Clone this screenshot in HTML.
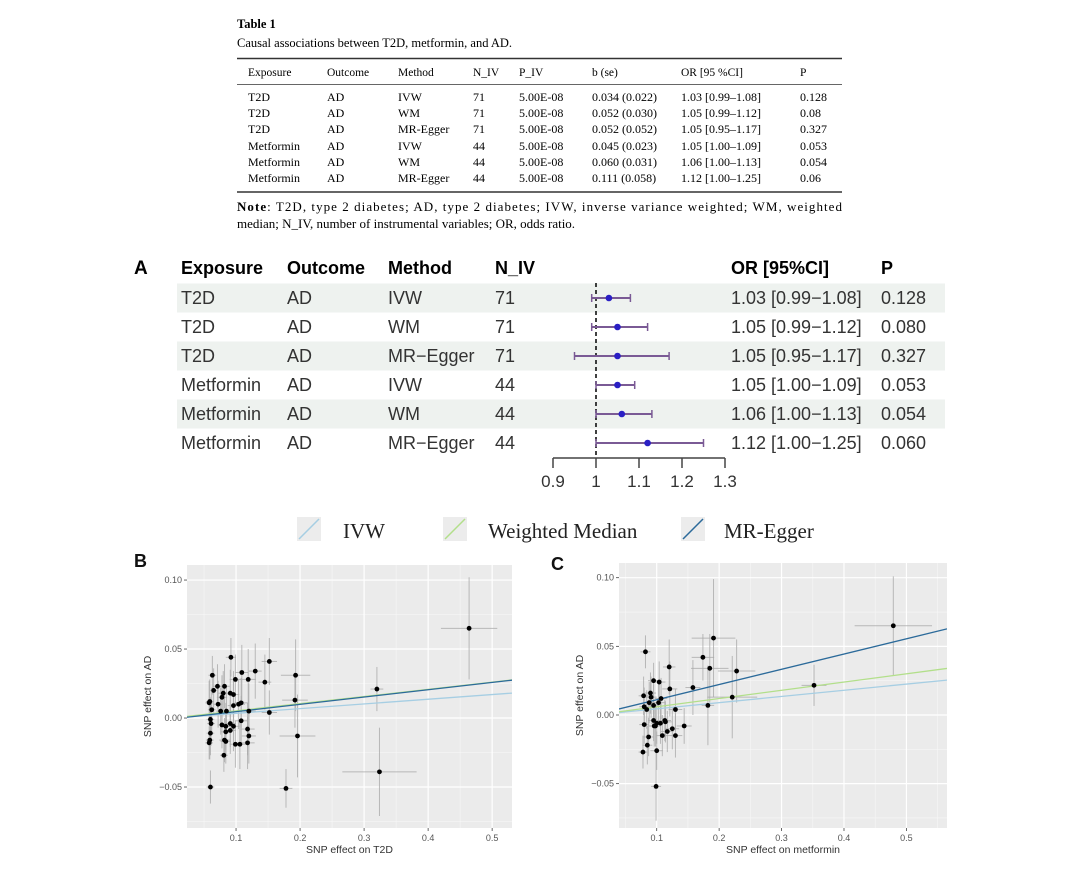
<!DOCTYPE html>
<html><head><meta charset="utf-8">
<style>
html,body{margin:0;padding:0;background:#fff;}
svg{display:block;}
.serif{font-family:"Liberation Serif",serif;}
.sans{font-family:"Liberation Sans",sans-serif;}
</style></head>
<body>
<svg id="fig" width="1080" height="870" viewBox="0 0 1080 870" xmlns="http://www.w3.org/2000/svg">
<g id="table" class="serif"></g>
<g id="forest" class="sans"></g>
<g id="legend"></g>
<g id="panelB" class="sans"></g>
<g id="panelC" class="sans"></g>
</svg>
<script>
// ---------- data ----------
const exposures = ["T2D","T2D","T2D","Metformin","Metformin","Metformin"];
const outcomes = ["AD","AD","AD","AD","AD","AD"];
const methods = ["IVW","WM","MR-Egger","IVW","WM","MR-Egger"];
const nIV = [71,71,71,44,44,44];
const pIV = ["5.00E-08","5.00E-08","5.00E-08","5.00E-08","5.00E-08","5.00E-08"];
const bse = ["0.034 (0.022)","0.052 (0.030)","0.052 (0.052)","0.045 (0.023)","0.060 (0.031)","0.111 (0.058)"];
const orVals = [1.03,1.05,1.05,1.05,1.06,1.12];
const orLow = [0.99,0.99,0.95,1.00,1.00,1.00];
const orHigh = [1.08,1.12,1.17,1.09,1.13,1.25];
const pTable = ["0.128","0.08","0.327","0.053","0.054","0.06"];
const pForest = ["0.128","0.080","0.327","0.053","0.054","0.060"];
const forestTicks = [0.9,1,1.1,1.2,1.3];

// Panel B (T2D) SNP effects
const bX = [0.464,0.320,0.324,0.178,0.193,0.192,0.196,0.152,0.152,0.145,0.130,0.119,0.109,0.092,0.060,0.081,
 0.063,0.071,0.065,0.082,0.078,0.080,0.091,0.096,0.099,0.059,0.058,0.062,0.072,0.076,0.085,0.096,0.104,0.108,0.120,
 0.060,0.061,0.078,0.084,0.091,0.096,0.108,0.084,0.091,0.118,0.120,0.060,0.058,0.059,0.082,0.084,0.099,0.106,0.118];
const bY = [0.065,0.021,-0.039,-0.051,0.031,0.013,-0.013,0.041,0.004,0.026,0.034,0.028,0.033,0.044,-0.050,-0.027,
 0.031,0.023,0.020,0.023,0.015,0.018,0.018,0.017,0.028,0.012,0.011,0.006,0.010,0.005,0.005,0.009,0.010,0.011,0.005,
 -0.001,-0.004,-0.005,-0.006,-0.004,-0.006,-0.002,-0.010,-0.009,-0.008,-0.013,-0.011,-0.018,-0.016,-0.016,-0.017,-0.019,-0.019,-0.018];
const bXse = [0.044,0.010,0.058,0.010,0.023,0.020,0.028,0.012,0.012,0.010,0.010,0.012,0.010,0.008,0.006,0.006,
 0.006,0.007,0.006,0.008,0.008,0.008,0.009,0.009,0.009,0.006,0.006,0.006,0.007,0.007,0.008,0.009,0.010,0.010,0.011,
 0.006,0.006,0.007,0.008,0.009,0.009,0.010,0.008,0.009,0.011,0.011,0.006,0.006,0.006,0.008,0.008,0.009,0.010,0.011];
const bYse = [0.037,0.016,0.032,0.014,0.026,0.020,0.030,0.017,0.016,0.020,0.020,0.022,0.020,0.014,0.012,0.012,
 0.014,0.016,0.016,0.016,0.016,0.016,0.017,0.017,0.018,0.016,0.016,0.016,0.017,0.017,0.017,0.018,0.018,0.018,0.020,
 0.016,0.016,0.017,0.017,0.017,0.018,0.018,0.017,0.017,0.019,0.020,0.016,0.012,0.014,0.016,0.016,0.017,0.018,0.019];
const bSlopes = [0.034,0.052,0.053];
const bIntercepts = [0,0,-0.0007];

// Panel C (metformin)
const cX = [0.479,0.352,0.191,0.174,0.185,0.228,0.221,0.182,0.158,0.120,0.121,0.082,0.099,0.078,0.100,0.085,0.087,0.109,
 0.130,0.117,0.125,0.144,0.113,0.114,0.130,0.106,0.100,0.096,0.098,0.095,0.080,0.079,0.095,0.104,0.090,0.091,0.088,0.103,0.107,0.084,0.095,0.080];
const cY = [0.065,0.0216,0.056,0.042,0.034,0.032,0.013,0.007,0.020,0.035,0.019,0.046,-0.052,-0.027,-0.026,-0.022,-0.016,-0.015,
 -0.015,-0.012,-0.010,-0.008,-0.004,-0.005,0.004,-0.006,-0.006,-0.008,-0.008,-0.004,-0.007,0.014,0.025,0.024,0.016,0.013,0.009,0.009,0.012,0.004,0.007,0.006];
const cXse = [0.062,0.020,0.035,0.018,0.030,0.030,0.040,0.010,0.012,0.010,0.012,0.008,0.008,0.007,0.010,0.008,0.008,0.010,
 0.011,0.010,0.011,0.012,0.010,0.010,0.011,0.009,0.009,0.009,0.009,0.009,0.008,0.008,0.009,0.010,0.009,0.009,0.009,0.010,0.010,0.008,0.009,0.008];
const cYse = [0.036,0.015,0.043,0.017,0.025,0.023,0.030,0.029,0.020,0.020,0.020,0.012,0.025,0.012,0.014,0.014,0.014,0.015,
 0.016,0.015,0.015,0.013,0.015,0.015,0.015,0.015,0.015,0.015,0.015,0.015,0.014,0.014,0.013,0.015,0.015,0.015,0.015,0.015,0.015,0.014,0.015,0.014];
const cSlopes = [0.045,0.060,0.111];
const cIntercepts = [0,0,0];
const lineColors = ["#a6cee3","#b2df8a","#2b6a9a"];

// ---------- helpers ----------
const NS="http://www.w3.org/2000/svg";
function mk(parent,tag,attrs,text){
  const e=document.createElementNS(NS,tag);
  for(const k in attrs)e.setAttribute(k,attrs[k]);
  if(text!==undefined)e.textContent=text;
  parent.appendChild(e);return e;
}

// ---------- Table ----------
const T=document.getElementById('table');
let el;
el=mk(T,'text',{x:237,y:28,'font-size':12.5,'font-weight':'bold'},'Table 1');


el=mk(T,'text',{x:237,y:47,'font-size':12.5},'Causal associations between T2D, metformin, and AD.');


mk(T,'line',{x1:237,x2:842,y1:58.5,y2:58.5,stroke:'#333','stroke-width':1.5});
mk(T,'line',{x1:237,x2:842,y1:84.5,y2:84.5,stroke:'#333','stroke-width':0.8});
mk(T,'line',{x1:237,x2:842,y1:192,y2:192,stroke:'#333','stroke-width':1.5});
const colX=[248,327,398,473,519,592,681,800];
const heads=["Exposure","Outcome","Method","N_IV","P_IV","b (se)","OR [95 %CI]","P"];
heads.forEach((h,i)=>{
  const t=mk(T,'text',{x:colX[i],y:76,'font-size':11.5},h);
  
  
});
const rowY=[101,117,133,150,166,182];
for(let r=0;r<6;r++){
  const ci=orVals[r].toFixed(2)+" ["+orLow[r].toFixed(2)+"\u2013"+orHigh[r].toFixed(2)+"]";
  const vals=[exposures[r],outcomes[r],methods[r],nIV[r],pIV[r],bse[r],ci,pTable[r]];
  vals.forEach((v,i)=>{
    const t=mk(T,'text',{x:colX[i],y:rowY[r],'font-size':12},String(v));
    
    
  });
}
el=mk(T,'text',{x:237,y:211,'font-size':13,textLength:605,lengthAdjust:'spacing'});
el.innerHTML='<tspan font-weight="bold">Note</tspan>: T2D, type 2 diabetes; AD, type 2 diabetes; IVW, inverse variance weighted; WM, weighted';


el=mk(T,'text',{x:237,y:228,'font-size':13},'median; N_IV, number of instrumental variables; OR, odds ratio.');



// ---------- Forest ----------
const F=document.getElementById('forest');
const fx=v=>596+(v-1)*430;
const fRowY=[298,327,356,385,414,443];
for(let r=0;r<6;r+=2){
  const s=mk(F,'rect',{x:177,y:fRowY[r]-14.5,width:768,height:29,fill:'#eef2ef'});
  
  
}
el=mk(F,'text',{x:134,y:274,'font-size':19,'font-weight':'bold'},'A');


const fCols=[181,287,388,495];
const fHeads=["Exposure","Outcome","Method","N_IV"];
fHeads.forEach((h,i)=>{
  const t=mk(F,'text',{x:fCols[i],y:274,'font-size':18,'font-weight':'bold'},h);
  
  
});
el=mk(F,'text',{x:731,y:274,'font-size':18,'font-weight':'bold'},'OR [95%CI]');


el=mk(F,'text',{x:881,y:274,'font-size':18,'font-weight':'bold'},'P');


mk(F,'line',{x1:fx(1),x2:fx(1),y1:283,y2:458,stroke:'#111','stroke-width':1.6,'stroke-dasharray':'4,3'});
for(let r=0;r<6;r++){
  const y=fRowY[r]+6;
  [exposures[r],outcomes[r],methods[r].replace('-','\u2212'),String(nIV[r])].forEach((v,i)=>{
    const t=mk(F,'text',{x:fCols[i],y:y,'font-size':18,fill:'#333'},v);
    
    
  });
  const ci=orVals[r].toFixed(2)+" ["+orLow[r].toFixed(2)+"\u2212"+orHigh[r].toFixed(2)+"]";
  let t=mk(F,'text',{x:731,y:y,'font-size':18,fill:'#333'},ci);
  
  
  t=mk(F,'text',{x:881,y:y,'font-size':18,fill:'#333'},pForest[r]);
  
  
  const yc=fRowY[r];
  const g=mk(F,'g',{});
  
  
  mk(g,'line',{x1:fx(orLow[r]),x2:fx(orHigh[r]),y1:yc,y2:yc,stroke:'#7a5a95','stroke-width':2});
  mk(g,'line',{x1:fx(orLow[r]),x2:fx(orLow[r]),y1:yc-4,y2:yc+4,stroke:'#7a5a95','stroke-width':1.5});
  mk(g,'line',{x1:fx(orHigh[r]),x2:fx(orHigh[r]),y1:yc-4,y2:yc+4,stroke:'#7a5a95','stroke-width':1.5});
  const p=mk(F,'circle',{cx:fx(orVals[r]),cy:yc,r:3.3,fill:'#2a1fc4'});
  
  
}
mk(F,'line',{x1:fx(0.9),x2:fx(1.3),y1:458,y2:458,stroke:'#444','stroke-width':1.5});
forestTicks.forEach(v=>{
  mk(F,'line',{x1:fx(v),x2:fx(v),y1:458,y2:468,stroke:'#444','stroke-width':1.5});
  const t=mk(F,'text',{x:fx(v),y:487,'font-size':17,'text-anchor':'middle',fill:'#333'},String(v));
  
  
});

// ---------- Legend ----------
const L=document.getElementById('legend');
const legKeys=[[297,343,"IVW"],[443,488,"Weighted Median"],[681,724,"MR-Egger"]];
legKeys.forEach((k,i)=>{
  const g=mk(L,'g',{});
  
  
  mk(g,'rect',{x:k[0],y:517,width:24,height:24,fill:'#ececec'});
  mk(g,'line',{x1:k[0]+2,y1:539,x2:k[0]+22,y2:519,stroke:lineColors[i],'stroke-width':1.5});
  mk(g,'text',{x:k[1],y:538,'font-size':21,'font-family':'"Liberation Serif",serif',fill:'#222'},k[2]);
});

// ---------- Scatter ----------
function scatter(id,opt){
  const G=document.getElementById(id);
  const X=v=>opt.px0+(v-opt.xmin)/(opt.xmax-opt.xmin)*(opt.px1-opt.px0);
  const Y=v=>opt.py1-(v-opt.ymin)/(opt.ymax-opt.ymin)*(opt.py1-opt.py0);
  const bg=mk(G,'rect',{x:opt.px0,y:opt.py0,width:opt.px1-opt.px0,height:opt.py1-opt.py0,fill:'#ebebeb'});
  
  
  const xt=[0.1,0.2,0.3,0.4,0.5], yt=[-0.05,0,0.05,0.1];
  const xm=[0.05,0.15,0.25,0.35,0.45,0.55], ym=[-0.075,-0.025,0.025,0.075];
  xm.forEach(v=>{if(v>opt.xmin&&v<opt.xmax)mk(G,'line',{x1:X(v),x2:X(v),y1:opt.py0,y2:opt.py1,stroke:'#f7f7f7','stroke-width':0.6});});
  ym.forEach(v=>{if(v>opt.ymin&&v<opt.ymax)mk(G,'line',{y1:Y(v),y2:Y(v),x1:opt.px0,x2:opt.px1,stroke:'#f7f7f7','stroke-width':0.6});});
  xt.forEach(v=>{
    mk(G,'line',{x1:X(v),x2:X(v),y1:opt.py0,y2:opt.py1,stroke:'#fff','stroke-width':1.2});
    mk(G,'line',{x1:X(v),x2:X(v),y1:opt.py1,y2:opt.py1+3,stroke:'#444','stroke-width':0.8});
    const t=mk(G,'text',{x:X(v),y:opt.py1+13,'font-size':9,'text-anchor':'middle',fill:'#555'},String(v));
    
    
  });
  yt.forEach(v=>{
    mk(G,'line',{y1:Y(v),y2:Y(v),x1:opt.px0,x2:opt.px1,stroke:'#fff','stroke-width':1.2});
    mk(G,'line',{y1:Y(v),y2:Y(v),x1:opt.px0-3,x2:opt.px0,stroke:'#444','stroke-width':0.8});
    const lab=v===0?'0.00':(v<0?'\u2212'+Math.abs(v).toFixed(2):v.toFixed(2));
    const t=mk(G,'text',{x:opt.px0-5,y:Y(v)+3,'font-size':9,'text-anchor':'end',fill:'#555'},lab);
    
    
  });
  const xs=opt.xs, ys=opt.ys;
  const eg=mk(G,'g',{});
  
  
  for(let i=0;i<xs.length;i++){
    mk(eg,'line',{x1:X(xs[i]-opt.xse[i]),x2:X(xs[i]+opt.xse[i]),y1:Y(ys[i]),y2:Y(ys[i]),stroke:'#aaa','stroke-width':1,'stroke-opacity':0.8});
    mk(eg,'line',{x1:X(xs[i]),x2:X(xs[i]),y1:Y(ys[i]-opt.yse[i]),y2:Y(ys[i]+opt.yse[i]),stroke:'#aaa','stroke-width':1,'stroke-opacity':0.8});
  }
  const clip='clip'+id;
  const cp=mk(G,'clipPath',{id:clip});
  mk(cp,'rect',{x:opt.px0,y:opt.py0,width:opt.px1-opt.px0,height:opt.py1-opt.py0});
  opt.slopes.forEach((s,i)=>{
    const l=mk(G,'line',{x1:X(opt.xmin),y1:Y(opt.ints[i]+s*opt.xmin),x2:X(opt.xmax),y2:Y(opt.ints[i]+s*opt.xmax),stroke:lineColors[i],'stroke-width':1.3,'clip-path':'url(#'+clip+')'});
    
    
  });
  for(let i=0;i<xs.length;i++){
    const c=mk(G,'circle',{cx:X(xs[i]),cy:Y(ys[i]),r:2.4,fill:'#000'});
    
    
  }
  let t=mk(G,'text',{x:(opt.px0+opt.px1)/2,y:opt.py1+25,'font-size':10.5,'text-anchor':'middle',fill:'#333'},opt.xlab);
  
  
  t=mk(G,'text',{x:0,y:0,'font-size':10.5,'text-anchor':'middle',fill:'#333',transform:'translate('+opt.ytx+','+(opt.py0+opt.py1)/2+') rotate(-90)'},'SNP effect on AD');
  
  
  t=mk(G,'text',{x:opt.labx,y:opt.laby,'font-size':18,'font-weight':'bold',fill:'#111'},opt.label);
  
  
}
scatter('panelB',{px0:187,px1:512,py0:565,py1:828,xmin:0.0234,xmax:0.531,ymin:-0.0797,ymax:0.1109,
  xs:bX,ys:bY,xse:bXse,yse:bYse,slopes:bSlopes,ints:bIntercepts,xlab:'SNP effect on T2D',ytx:151,label:'B',labx:134,laby:567});
scatter('panelC',{px0:619,px1:947,py0:563,py1:828,xmin:0.0396,xmax:0.565,ymin:-0.0823,ymax:0.1107,
  xs:cX,ys:cY,xse:cXse,yse:cYse,slopes:cSlopes,ints:cIntercepts,xlab:'SNP effect on metformin',ytx:583,label:'C',labx:551,laby:570});
</script>
</body></html>
